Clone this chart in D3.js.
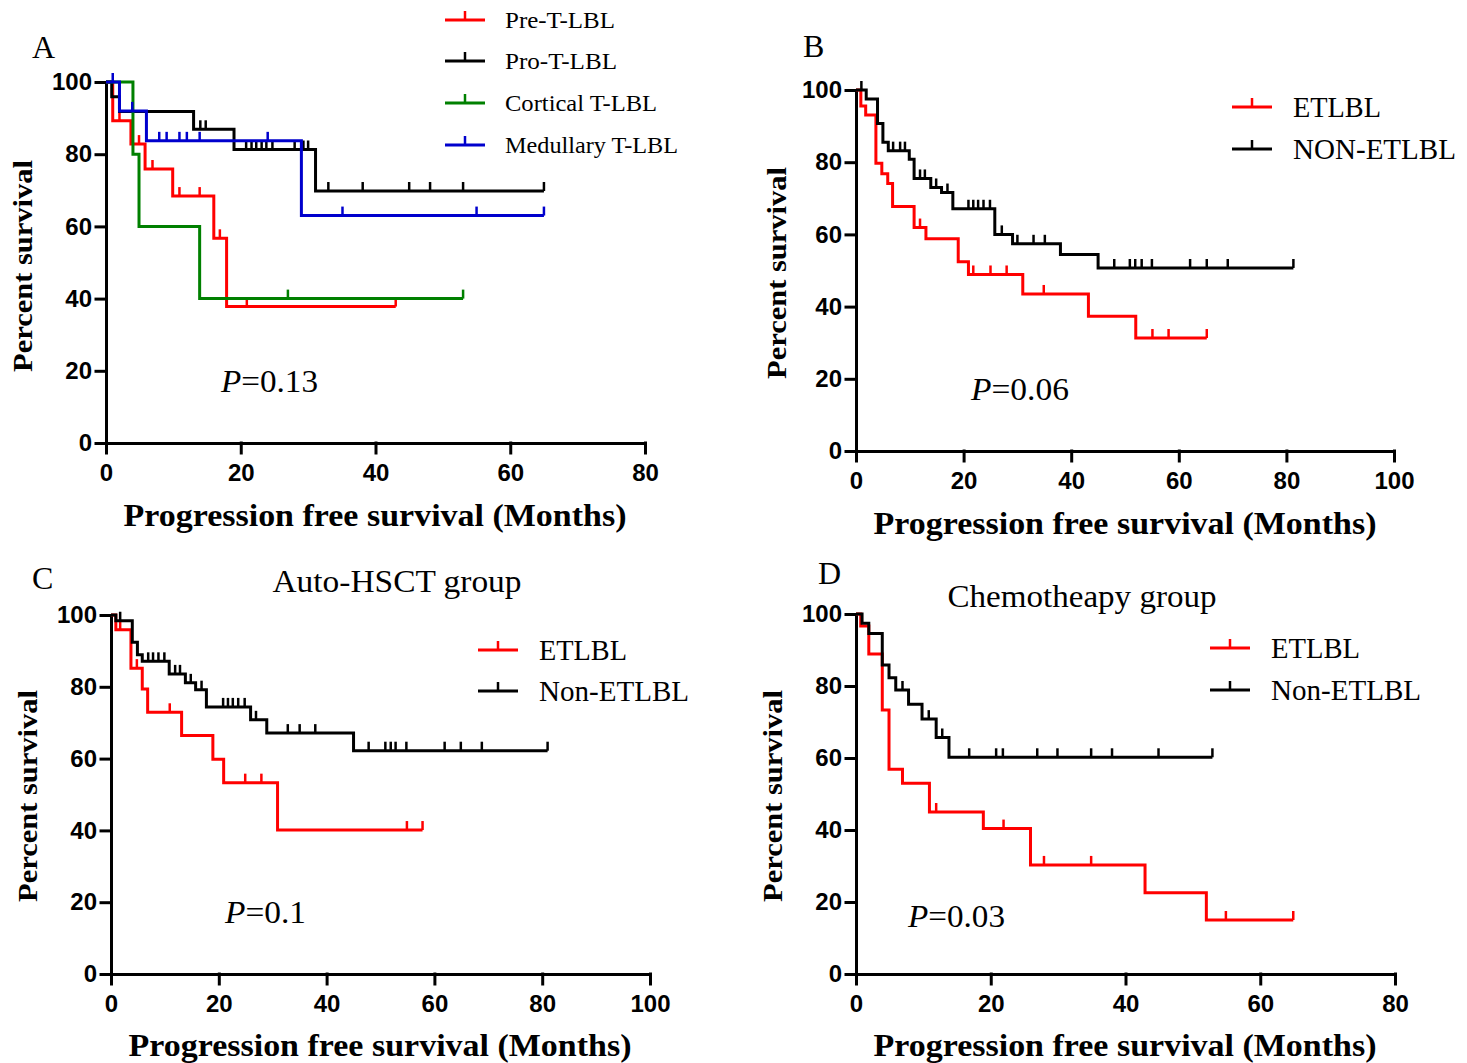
<!DOCTYPE html>
<html lang="en">
<head>
<meta charset="utf-8">
<title>PFS Kaplan-Meier</title>
<script src="https://d3js.org/d3.v7.min.js"></script>
<style>
body{
  margin:0;
  background:#fff;
}
svg text{
  font-family:"Liberation Serif","Times New Roman",serif;
  fill:#000;
}
.axis path, .axis line{
  fill:none;
  stroke:#000;
  stroke-width:3;
  stroke-linecap:square;
}
.axis text{
  font-family:"Liberation Sans",Arial,sans-serif;
  font-weight:bold;
  font-size:24px;
}
.km{
  fill:none;
  stroke-width:3;
}
</style>
</head>
<body>
<div id="chart"></div>
<script>
// ---- panel A : T-LBL subtypes ----
var aPreT = [0, 1, 3.7, 5.8, 9.9, 16, 17.9];
var aPreS = [100, 89.3, 82.8, 75.9, 68.4, 56.7, 37.8];
var aPreC = [2, 4.9, 6.9, 10.9, 13.9, 16.9, 20.9, 43];

var aProT = [0, 0.85, 2, 13, 19, 31.1];
var aProS = [100, 95.9, 91.8, 86.9, 81.3, 69.8];
var aProC = [14, 14.8, 20.8, 21.6, 22.3, 23.1, 23.8, 24.7, 28, 29.3, 30, 33, 38.1, 45, 48.1, 53, 65];

var aCorT = [0, 4, 4.9, 13.9];
var aCorS = [100, 80, 60, 40];
var aCorC = [27, 53];

var aMedT = [0, 2, 6, 29];
var aMedS = [100, 92, 83.7, 63];
var aMedC = [1, 3.9, 7.9, 9, 10.9, 12, 13.9, 24, 35.1, 55, 65];

// ---- panel B : all patients ----
var bEtT = [0, 0.9, 1.8, 3.7, 4.8, 5.9, 6.8, 10.8, 13.0, 19.0, 20.9, 31.0, 43.2, 52.0];
var bEtS = [100, 95.6, 93.1, 79.7, 76.8, 74.1, 67.7, 61.9, 58.8, 52.4, 48.9, 43.5, 37.3, 31.3];
var bEtC = [11.9, 21.8, 25.0, 28.0, 34.9, 55.1, 58.1, 65.2];

var bNonT = [0, 1.9, 4.0, 5.0, 6.0, 9.9, 10.8, 13.9, 15.9, 18.0, 25.8, 29.1, 38.0, 45.0];
var bNonS = [100, 97.5, 90.7, 85.5, 83.2, 80.8, 75.5, 73.0, 71.6, 67.1, 60.0, 57.4, 54.4, 50.7];
var bNonC = [1.0, 6.9, 8.2, 9.1, 11.9, 12.8, 14.9, 17.0, 20.9, 21.8, 22.7, 23.7, 24.9, 27.1, 30.0, 33.0, 35.1,
             48.0, 50.9, 51.9, 53.1, 55.0, 62.1, 65.2, 69.1, 81.3];

// ---- panel C : Auto-HSCT group ----
var cEtT = [0, 0.9, 3.7, 5.8, 6.8, 13.1, 18.9, 20.9, 30.9];
var cEtS = [100, 95.9, 85.2, 79.4, 72.9, 66.4, 59.8, 53.3, 40.1];
var cEtC = [1.7, 4.8, 10.9, 24.9, 27.9, 54.9, 57.8];

var cNonT = [0, 0.9, 3.95, 4.9, 5.8, 10.8, 13.8, 15.7, 17.7, 25.9, 28.9, 45.0];
var cNonS = [100, 98.4, 92.4, 88.9, 87.1, 83.6, 81.1, 79.2, 74.4, 70.8, 67.1, 62.2];
var cNonC = [1.7, 6.9, 7.8, 8.8, 9.9, 11.9, 12.8, 14.8, 16.8, 20.8, 21.7, 22.6, 23.6, 24.8, 26.9,
             32.8, 35.0, 37.9, 47.8, 50.9, 51.9, 52.8, 54.8, 61.9, 64.9, 68.8, 81.0];

// ---- panel D : Chemotherapy group ----
var dEtT = [0, 0.7, 1.9, 3.9, 4.9, 6.9, 10.9, 18.9, 25.9, 42.9, 52.0];
var dEtS = [100, 96.7, 88.9, 73.3, 56.9, 53.0, 45.0, 40.4, 30.3, 22.6, 15.0];
var dEtC = [11.9, 21.9, 27.9, 34.9, 54.9, 64.9];

var dNonT = [0, 0.9, 1.9, 3.9, 4.9, 5.9, 7.8, 9.8, 11.9, 13.8];
var dNonS = [100, 97.4, 94.6, 85.8, 82.3, 78.9, 74.9, 70.8, 65.7, 60.2];
var dNonC = [6.9, 10.8, 12.8, 16.8, 20.8, 21.8, 26.9, 29.9, 34.9, 38.0, 44.9, 52.9];

var yTicks = [0, 20, 40, 60, 80, 100];
var xTicks80 = [0, 20, 40, 60, 80];
var xTicks100 = [0, 20, 40, 60, 80, 100];

var RED = "#ff0000", BLACK = "#000000", GREEN = "#008000", BLUE = "#0000cd";

var svg = d3.select("#chart").append("svg")
  .attr("width", 1467)
  .attr("height", 1063);

function survAt(times, surv, t){
  var s = surv[0];
  for (var i = 0; i < times.length; i++){ if (times[i] <= t) s = surv[i]; }
  return s;
}

function drawPanel(p){
  var x = d3.scaleLinear().domain([0, p.xMax]).range([p.left, p.right]);
  var y = d3.scaleLinear().domain([0, 100]).range([p.bottom, p.top]);

  svg.append("g")
    .attr("class","axis")
    .attr("transform","translate(" + p.left + ",0)")
    .call(d3.axisLeft(y).tickValues(yTicks).tickSize(10).tickSizeOuter(0).tickPadding(4));

  svg.append("g")
    .attr("class","axis")
    .attr("transform","translate(0," + p.bottom + ")")
    .call(d3.axisBottom(x).tickValues(p.xTicks).tickSize(10).tickSizeOuter(0).tickPadding(11));

  p.series.forEach(function(s){
    var end = s.c[s.c.length - 1];
    var pts = s.t.map(function(t, i){ return [t, s.s[i]]; });
    pts.push([end, s.s[s.s.length - 1]]);

    svg.append("path")
      .attr("class","km")
      .attr("stroke", s.color)
      .attr("d", d3.line().curve(d3.curveStepAfter)
        .x(function(d){ return x(d[0]); })
        .y(function(d){ return y(d[1]); })(pts));

    svg.append("g").selectAll("line")
      .data(s.c)
      .enter()
      .append("line")
      .attr("x1", function(d){ return x(d); })
      .attr("x2", function(d){ return x(d); })
      .attr("y1", function(d){ return y(survAt(s.t, s.s, d)); })
      .attr("y2", function(d){ return y(survAt(s.t, s.s, d)) - 9; })
      .attr("stroke", s.color)
      .attr("stroke-width", 2.5);
  });

  // legend
  p.series.forEach(function(s, i){
    var ly = p.legY[i];
    svg.append("line")
      .attr("x1", p.legX).attr("x2", p.legX + 40)
      .attr("y1", ly).attr("y2", ly)
      .attr("stroke", s.color).attr("stroke-width", 3);
    svg.append("line")
      .attr("x1", p.legX + 20).attr("x2", p.legX + 20)
      .attr("y1", ly).attr("y2", ly - 9)
      .attr("stroke", s.color).attr("stroke-width", 2.5);
    svg.append("text")
      .attr("x", p.legX + 60 + (p.legDx || 0))
      .attr("y", ly + p.legFont * 0.33)
      .style("font-size", p.legFont + "px")
      .attr("textLength", s.w)
      .attr("lengthAdjust", "spacingAndGlyphs")
      .text(s.name);
  });

  // axis titles
  svg.append("text")
    .attr("x", p.xTitle[0]).attr("y", p.xTitle[1])
    .attr("text-anchor","middle")
    .style("font-size","31px").style("font-weight","bold")
    .attr("textLength", 503).attr("lengthAdjust","spacingAndGlyphs")
    .text("Progression free survival (Months)");

  svg.append("text")
    .attr("transform","translate(" + p.yTitle[0] + "," + p.yTitle[1] + ") rotate(-90)")
    .attr("text-anchor","middle")
    .style("font-size","27px").style("font-weight","bold")
    .attr("textLength", 212).attr("lengthAdjust","spacingAndGlyphs")
    .text("Percent survival");

  // panel letter
  svg.append("text")
    .attr("x", p.letter[0]).attr("y", p.letter[1])
    .style("font-size","32px")
    .text(p.name);

  // P value
  var pv = svg.append("text")
    .attr("x", p.pPos[0]).attr("y", p.pPos[1])
    .style("font-size","32px")
    .attr("textLength", p.pPos[2]).attr("lengthAdjust","spacingAndGlyphs");
  pv.append("tspan").style("font-style","italic").text("P");
  pv.append("tspan").text("=" + p.pval);

  if (p.title){
    svg.append("text")
      .attr("x", p.title[0]).attr("y", p.title[1])
      .attr("text-anchor","middle")
      .style("font-size","32px")
      .attr("textLength", p.title[2]).attr("lengthAdjust","spacingAndGlyphs")
      .text(p.title[3]);
  }
}

drawPanel({
  name:"A", left:106, right:645, top:82, bottom:443, xMax:80, xTicks:xTicks80,
  series:[
    {name:"Pre-T-LBL", color:RED, t:aPreT, s:aPreS, c:aPreC, w:110},
    {name:"Pro-T-LBL", color:BLACK, t:aProT, s:aProS, c:aProC, w:112},
    {name:"Cortical T-LBL", color:GREEN, t:aCorT, s:aCorS, c:aCorC, w:152},
    {name:"Medullary T-LBL", color:BLUE, t:aMedT, s:aMedS, c:aMedC, w:173}
  ],
  legX:445, legY:[20, 61, 103, 145], legFont:23, legDx:0,
  xTitle:[375, 526], yTitle:[32, 266], letter:[32, 58], pPos:[221, 392, 97], pval:"0.13"
});

drawPanel({
  name:"B", left:856, right:1394, top:90, bottom:451, xMax:100, xTicks:xTicks100,
  series:[
    {name:"ETLBL", color:RED, t:bEtT, s:bEtS, c:bEtC, w:88},
    {name:"NON-ETLBL", color:BLACK, t:bNonT, s:bNonS, c:bNonC, w:163}
  ],
  legX:1232, legY:[107, 149], legFont:29, legDx:1,
  xTitle:[1125, 534], yTitle:[786, 273], letter:[803, 57], pPos:[971, 400, 98], pval:"0.06"
});

drawPanel({
  name:"C", left:111, right:650, top:615, bottom:974, xMax:100, xTicks:xTicks100,
  series:[
    {name:"ETLBL", color:RED, t:cEtT, s:cEtS, c:cEtC, w:88},
    {name:"Non-ETLBL", color:BLACK, t:cNonT, s:cNonS, c:cNonC, w:150}
  ],
  legX:478, legY:[650, 691], legFont:29, legDx:1,
  xTitle:[380, 1056], yTitle:[37, 796], letter:[32, 589], pPos:[225, 923, 81], pval:"0.1",
  title:[397, 592, 249, "Auto-HSCT group"]
});

drawPanel({
  name:"D", left:856, right:1395, top:614, bottom:974, xMax:80, xTicks:xTicks80,
  series:[
    {name:"ETLBL", color:RED, t:dEtT, s:dEtS, c:dEtC, w:89},
    {name:"Non-ETLBL", color:BLACK, t:dNonT, s:dNonS, c:dNonC, w:150}
  ],
  legX:1210, legY:[648, 690], legFont:29, legDx:1,
  xTitle:[1125, 1056], yTitle:[782, 796], letter:[818, 584], pPos:[908, 927, 97], pval:"0.03",
  title:[1082, 607, 269, "Chemotheapy group"]
});
</script>
</body>
</html>
